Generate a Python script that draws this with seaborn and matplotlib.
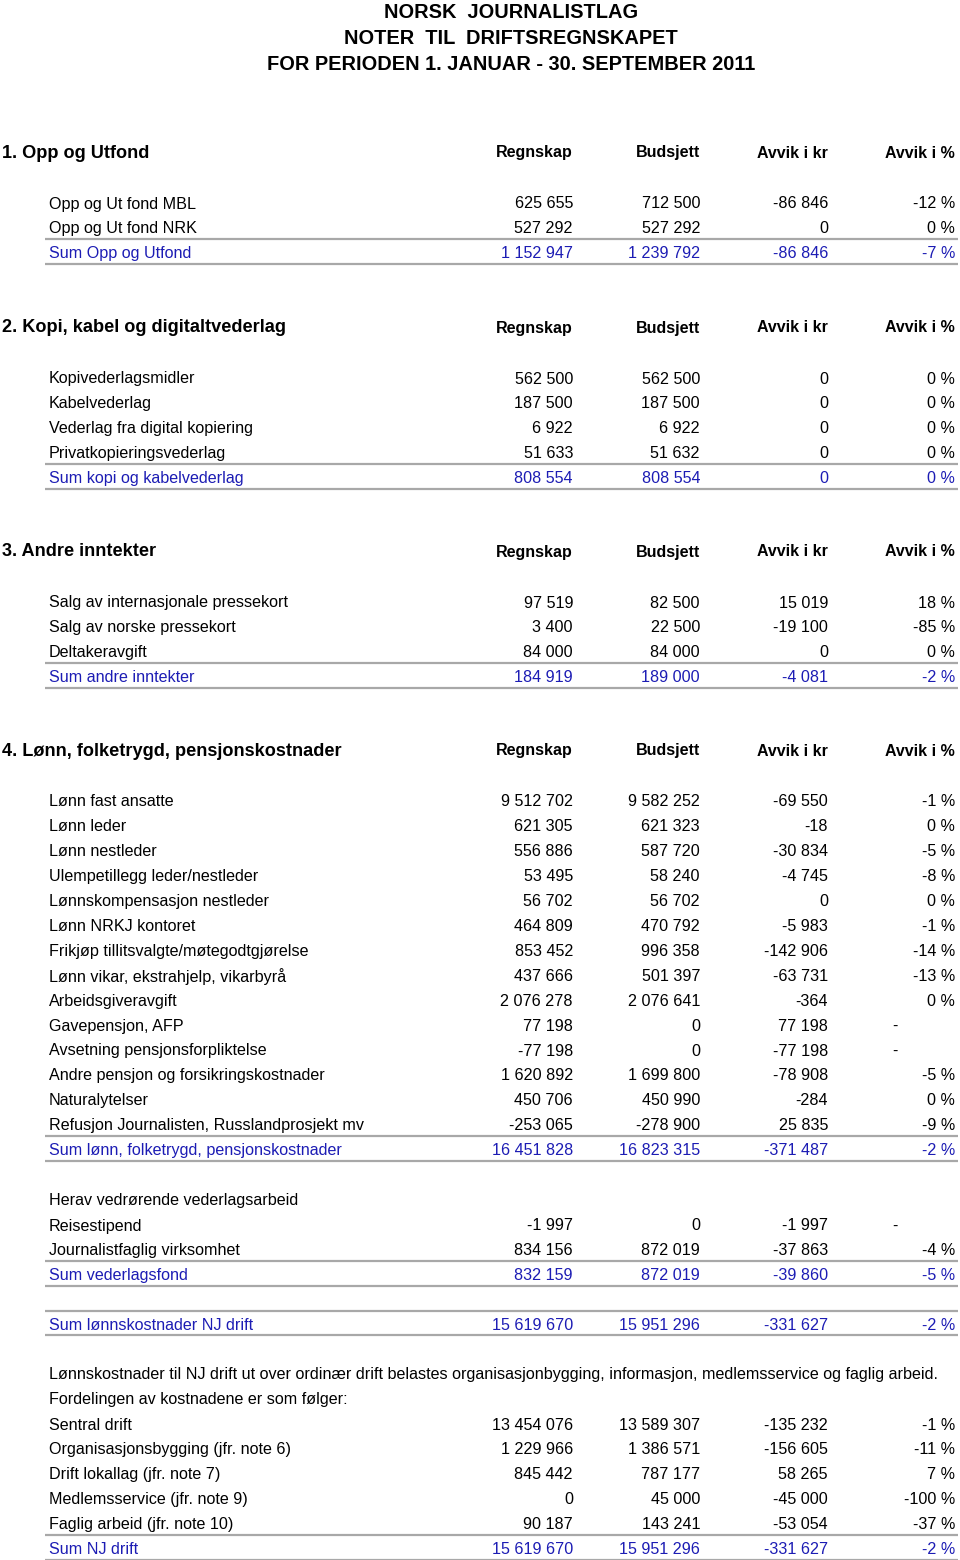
import matplotlib
matplotlib.use("Agg")
import matplotlib.pyplot as plt
import seaborn as sns

sns.set_theme(style="white")
plt.rcParams['font.family'] = ['Liberation Sans', 'DejaVu Sans']
plt.rcParams['text.color'] = 'black'

title_lines = ["NORSK  JOURNALISTLAG", "NOTER  TIL  DRIFTSREGNSKAPET",
               "FOR PERIODEN 1. JANUAR - 30. SEPTEMBER 2011"]
col_heads = ["Regnskap", "Budsjett", "Avvik i kr", "Avvik i %"]

# note 1
n1_title = "1. Opp og Utfond"
n1_labels = ["Opp og Ut fond MBL", "Opp og Ut fond NRK", "Sum Opp og Utfond"]
n1_regnskap = [625655, 527292, 1152947]
n1_budsjett = [712500, 527292, 1239792]
n1_avvik = [-86846, 0, -86846]
n1_pct = [-12, 0, -7]

# note 2
n2_title = "2. Kopi, kabel og digitaltvederlag"
n2_labels = ["Kopivederlagsmidler", "Kabelvederlag", "Vederlag fra digital kopiering",
             "Privatkopieringsvederlag", "Sum kopi og kabelvederlag"]
n2_regnskap = [562500, 187500, 6922, 51633, 808554]
n2_budsjett = [562500, 187500, 6922, 51632, 808554]
n2_avvik = [0, 0, 0, 0, 0]
n2_pct = [0, 0, 0, 0, 0]

# note 3
n3_title = "3. Andre inntekter"
n3_labels = ["Salg av internasjonale pressekort", "Salg av norske pressekort",
             "Deltakeravgift", "Sum andre inntekter"]
n3_regnskap = [97519, 3400, 84000, 184919]
n3_budsjett = [82500, 22500, 84000, 189000]
n3_avvik = [15019, -19100, 0, -4081]
n3_pct = [18, -85, 0, -2]

# note 4
n4_title = "4. Lønn, folketrygd, pensjonskostnader"
n4_labels = ["Lønn fast ansatte", "Lønn leder", "Lønn nestleder",
             "Ulempetillegg leder/nestleder", "Lønnskompensasjon nestleder",
             "Lønn NRKJ kontoret", "Frikjøp tillitsvalgte/møtegodtgjørelse",
             "Lønn vikar, ekstrahjelp, vikarbyrå", "Arbeidsgiveravgift",
             "Gavepensjon, AFP", "Avsetning pensjonsforpliktelse",
             "Andre pensjon og forsikringskostnader", "Naturalytelser",
             "Refusjon Journalisten, Russlandprosjekt mv",
             "Sum lønn, folketrygd, pensjonskostnader"]
n4_regnskap = [9512702, 621305, 556886, 53495, 56702, 464809, 853452, 437666,
               2076278, 77198, -77198, 1620892, 450706, -253065, 16451828]
n4_budsjett = [9582252, 621323, 587720, 58240, 56702, 470792, 996358, 501397,
               2076641, 0, 0, 1699800, 450990, -278900, 16823315]
n4_avvik = [-69550, -18, -30834, -4745, 0, -5983, -142906, -63731,
            -364, 77198, -77198, -78908, -284, 25835, -371487]
n4_pct = [-1, 0, -5, -8, 0, -1, -14, -13, 0, None, None, -5, 0, -9, -2]

# vederlag
ved_head = "Herav vedrørende vederlagsarbeid"
ved_labels = ["Reisestipend", "Journalistfaglig virksomhet", "Sum vederlagsfond"]
ved_regnskap = [-1997, 834156, 832159]
ved_budsjett = [0, 872019, 872019]
ved_avvik = [-1997, -37863, -39860]
ved_pct = [None, -4, -5]

# sum lønnskostnader NJ drift
sl_labels = ["Sum lønnskostnader NJ drift"]
sl_regnskap = [15619670]
sl_budsjett = [15951296]
sl_avvik = [-331627]
sl_pct = [-2]

# fordeling
ford_text = ["Lønnskostnader til NJ drift ut over ordinær drift belastes organisasjonbygging, informasjon, medlemsservice og faglig arbeid.",
             "Fordelingen av kostnadene er som følger:"]
ford_labels = ["Sentral drift", "Organisasjonsbygging (jfr. note 6)",
               "Drift lokallag (jfr. note 7)", "Medlemsservice (jfr. note 9)",
               "Faglig arbeid (jfr. note 10)", "Sum NJ drift"]
ford_regnskap = [13454076, 1229966, 845442, 0, 90187, 15619670]
ford_budsjett = [13589307, 1386571, 787177, 45000, 143241, 15951296]
ford_avvik = [-135232, -156605, 58265, -45000, -53054, -331627]
ford_pct = [-1, -11, 7, -100, -37, -2]

BLUE = "#1c1cb4"
GRAY = "#a8a8a8"
COLX = [573, 700, 828, 955]
LABX = 49
ROW = 24.9
FS = 11.6
DY = 2  # small baseline nudge


def fmt(v):
    s = f"{abs(v):,}".replace(",", " ")
    return ("-" if v < 0 else "") + s


fig = plt.figure(figsize=(9.6, 15.6), dpi=100)
ax = fig.add_axes([0, 0, 1, 1])
ax.set_xlim(0, 960)
ax.set_ylim(1560, 0)
ax.axis("off")

for i, t in enumerate(title_lines):
    ax.text(511, 12 + i * 26, t, ha="center", va="center", fontsize=14.4,
            fontweight="bold", color="black")


def header(y, title):
    ax.text(2, y + 1, title, ha="left", va="center", fontsize=13.1,
            fontweight="bold", color="black")
    for x, h in zip(COLX, col_heads):
        ax.text(x, y + 1, h, ha="right", va="center", fontsize=11.5,
                fontweight="bold", color="black")


def rows(y0, labels, reg, bud, avv, pct, sum_last=True):
    for i, lab in enumerate(labels):
        y = y0 + i * ROW
        is_sum = sum_last and i == len(labels) - 1
        c = BLUE if is_sum else "black"
        ax.text(LABX, y + DY, lab, ha="left", va="center", fontsize=FS, color=c)
        for x, v in zip(COLX[:3], [reg[i], bud[i], avv[i]]):
            ax.text(x, y + DY, fmt(v), ha="right", va="center", fontsize=FS, color=c)
        if pct[i] is None:
            ax.text(895, y + DY, "-", ha="center", va="center", fontsize=FS, color=c)
        else:
            ax.text(COLX[3], y + DY, f"{fmt(pct[i])} %", ha="right", va="center",
                    fontsize=FS, color=c)
    if sum_last:
        ys = y0 + (len(labels) - 1) * ROW
        ax.hlines([ys - ROW / 2, ys + ROW / 2], 45, 958, colors=GRAY, lw=1.6)


header(152, n1_title)
rows(202, n1_labels, n1_regnskap, n1_budsjett, n1_avvik, n1_pct)

header(327, n2_title)
rows(377, n2_labels, n2_regnskap, n2_budsjett, n2_avvik, n2_pct)

header(551, n3_title)
rows(601, n3_labels, n3_regnskap, n3_budsjett, n3_avvik, n3_pct)

header(750, n4_title)
rows(800, n4_labels, n4_regnskap, n4_budsjett, n4_avvik, n4_pct)

ax.text(LABX, 1199 + DY, ved_head, ha="left", va="center", fontsize=FS, color="black")
rows(1224, ved_labels, ved_regnskap, ved_budsjett, ved_avvik, ved_pct)

rows(1323, sl_labels, sl_regnskap, sl_budsjett, sl_avvik, sl_pct)

for i, t in enumerate(ford_text):
    ax.text(LABX, 1373 + i * ROW + DY, t, ha="left", va="center", fontsize=FS,
            color="black")
rows(1423, ford_labels, ford_regnskap, ford_budsjett, ford_avvik, ford_pct)

fig.savefig("out.png", dpi=100)
